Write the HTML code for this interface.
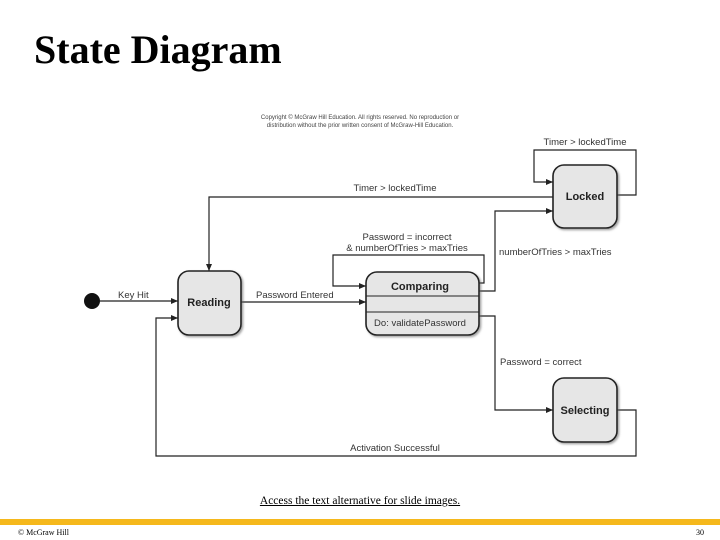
<!DOCTYPE html>
<html><head><meta charset="utf-8"><style>
body{margin:0;width:720px;height:540px;background:#fff;position:relative;overflow:hidden;font-family:"Liberation Serif",serif}
.t{position:absolute;left:34px;top:26px;font-size:40px;font-weight:bold;color:#000}
.bar{position:absolute;left:0;top:519px;width:720px;height:6px;background:#f5b81c}
.lk{position:absolute;top:495px;left:0;width:720px;text-align:center;font-size:11.5px;text-decoration:underline}
.ft{position:absolute;top:528px;font-size:8px}
</style></head><body>
<div class="t">State Diagram</div>
<svg width="720" height="540" style="position:absolute;left:0;top:0" font-family="Liberation Sans, sans-serif">
<defs><marker id="a" markerWidth="8" markerHeight="8" refX="7" refY="4" orient="auto" markerUnits="userSpaceOnUse"><path d="M0,1 L7,4 L0,7z" fill="#222"/></marker>
<filter id="s"><feDropShadow dx="1.5" dy="1.5" stdDeviation="1" flood-color="#666" flood-opacity="0.6"/></filter></defs>
<text x="360" y="119" font-size="6" text-anchor="middle" fill="#444">Copyright © McGraw Hill Education. All rights reserved. No reproduction or</text>
<text x="360" y="127" font-size="6" text-anchor="middle" fill="#444">distribution without the prior written consent of McGraw-Hill Education.</text>
<g fill="none" stroke="#222" stroke-width="1.2">
<path d="M100,301 H178" marker-end="url(#a)"/>
<path d="M241,302 H366" marker-end="url(#a)"/>
<path d="M553,197 H209 V271" marker-end="url(#a)"/>
<path d="M617,195 H636 V150 H534 V182 H553" marker-end="url(#a)"/>
<path d="M479,283 H484 V255 H333 V286 H366" marker-end="url(#a)"/>
<path d="M479,291 H495 V211 H553" marker-end="url(#a)"/>
<path d="M479,316 H495 V410 H553" marker-end="url(#a)"/>
<path d="M617,410 H636 V456 H156 V318 H178" marker-end="url(#a)"/>
</g>
<circle cx="92" cy="301" r="8" fill="#111"/>
<g fill="#e6e6e6" stroke="#222" stroke-width="1.6" filter="url(#s)">
<rect x="178" y="271" width="63" height="64" rx="11"/>
<rect x="366" y="272" width="113" height="63" rx="11"/>
<rect x="553" y="165" width="64" height="63" rx="11"/>
<rect x="553" y="378" width="64" height="64" rx="11"/>
</g>
<path d="M366,296 H479 M366,312 H479" stroke="#222" stroke-width="1"/>
<g font-weight="bold" font-size="11" text-anchor="middle" fill="#222">
<text x="209" y="306">Reading</text>
<text x="420" y="290">Comparing</text>
<text x="585" y="200">Locked</text>
<text x="585" y="414">Selecting</text>
</g>
<g font-size="9.5" fill="#333">
<text x="420" y="326" text-anchor="middle">Do: validatePassword</text>
<text x="118" y="298">Key Hit</text>
<text x="256" y="298">Password Entered</text>
<text x="395" y="191" text-anchor="middle">Timer &gt; lockedTime</text>
<text x="585" y="145" text-anchor="middle">Timer &gt; lockedTime</text>
<text x="407" y="240" text-anchor="middle">Password = incorrect</text>
<text x="407" y="251" text-anchor="middle">&amp; numberOfTries &gt; maxTries</text>
<text x="499" y="255">numberOfTries &gt; maxTries</text>
<text x="500" y="365">Password = correct</text>
<text x="395" y="451" text-anchor="middle">Activation Successful</text>
</g>
</svg>
<div class="lk">Access the text alternative for slide images.</div>
<div class="bar"></div>
<div class="ft" style="left:18px">© McGraw Hill</div>
<div class="ft" style="left:696px">30</div>
</body></html>
